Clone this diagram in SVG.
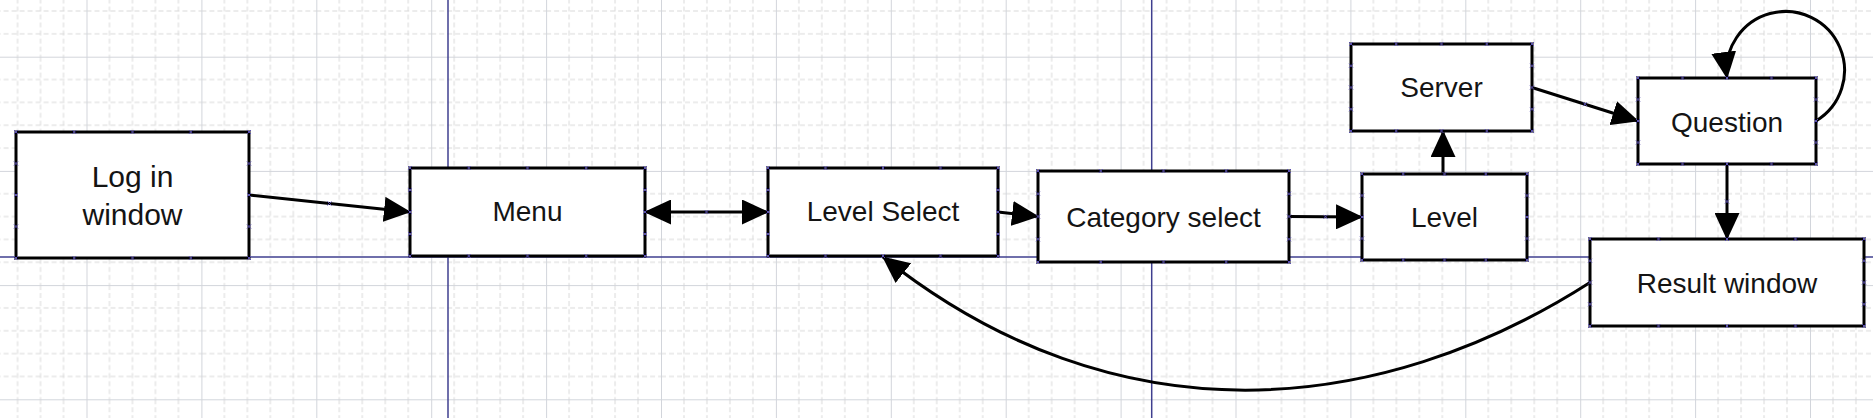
<svg xmlns="http://www.w3.org/2000/svg" width="1873" height="418" viewBox="0 0 1873 418">
  <style>
    .box { fill:#ffffff; stroke:#000000; stroke-width:3; }
    .lbl { font-family:"Liberation Sans", Arial, sans-serif; font-size:28px; fill:#141414; text-anchor:middle; }
    .big { font-size:30px; }
    .conn { fill:none; stroke:#000000; stroke-width:3; }
    .hp { fill:none; stroke:none; }
    .page { stroke:#3f3f8f; stroke-width:1.5; }
  </style>
  <defs>
    <pattern id="grid" patternUnits="userSpaceOnUse" x="86.5" y="56.7" width="114.9" height="114.2">
      <path d="M22.98,0 V114.2 M45.96,0 V114.2 M68.94,0 V114.2 M91.92,0 V114.2 M0,22.84 H114.9 M0,45.68 H114.9 M0,68.52 H114.9 M0,91.36 H114.9" stroke="#dadada" stroke-width="1" stroke-dasharray="5,3" fill="none"/>
      <path d="M0.5,0 V114.2 M0,0.5 H114.9" stroke="#d2d5db" stroke-width="1" fill="none"/>
    </pattern>
    <marker id="ah" viewBox="0 0 27 25" refX="26" refY="12.5" markerWidth="27" markerHeight="25" markerUnits="userSpaceOnUse" orient="auto">
      <path d="M0,0 L27,12.5 L0,25 z" fill="#000"/>
    </marker>
    <marker id="ahs" viewBox="0 0 27 25" refX="26" refY="12.5" markerWidth="27" markerHeight="25" markerUnits="userSpaceOnUse" orient="auto-start-reverse">
      <path d="M0,0 L27,12.5 L0,25 z" fill="#000"/>
    </marker>
    <marker id="h" viewBox="-3 -3 6 6" refX="0" refY="0" markerWidth="6" markerHeight="6" markerUnits="userSpaceOnUse" orient="0">
      <path d="M-2,-2 L2,2 M-2,2 L2,-2" stroke="#5a4fb0" stroke-width="1" fill="none"/>
    </marker>
  </defs>

  <g id="background">
    <rect x="0" y="0" width="1873" height="418" fill="#ffffff"/>
    <rect x="0" y="0" width="1873" height="418" fill="url(#grid)"/>
    <line class="page" x1="448" y1="0" x2="448" y2="418"/>
    <line class="page" x1="1151.7" y1="0" x2="1151.7" y2="418"/>
    <line class="page" x1="0" y1="257" x2="1873" y2="257"/>
  </g>

  <g id="connectors">
    <path class="conn" d="M249,195 L329.5,203.5 L410,212" marker-end="url(#ah)" marker-mid="url(#h)"/>
    <path class="conn" d="M645,212 L706.5,212 L768,212" marker-start="url(#ahs)" marker-end="url(#ahs)" marker-mid="url(#h)"/>
    <path class="conn" d="M998,212 L1018,214.2 L1038,216.5" marker-end="url(#ah)" marker-mid="url(#h)"/>
    <path class="conn" d="M1289,216.5 L1325.5,216.8 L1362,217" marker-end="url(#ah)" marker-mid="url(#h)"/>
    <path class="conn" d="M1443,174 L1443,152.5 L1443,131" marker-end="url(#ah)" marker-mid="url(#h)"/>
    <path class="conn" d="M1532,87.5 L1585,104.2 L1638,121" marker-end="url(#ah)" marker-mid="url(#h)"/>
    <path class="conn" d="M1727,164 L1727,201.5 L1727,239" marker-end="url(#ah)" marker-mid="url(#h)"/>
    <path class="conn" d="M1816,121 A59,59 0 1 0 1727,78" marker-end="url(#ah)"/>
    <path class="conn" d="M1590,282.5 C1379,417.5 1117,443 883,257" marker-end="url(#ah)"/>
  </g>

  <g id="node-login">
    <rect class="box" x="16" y="132" width="233" height="126"/>
    <path class="hp" marker-start="url(#h)" marker-mid="url(#h)" d="M16,132 L74.25,132 L132.5,132 L190.75,132 L249,132 L249,163.5 L249,195 L249,226.5 L249,258 L190.75,258 L132.5,258 L74.25,258 L16,258 L16,226.5 L16,195 L16,163.5 L16,132"/>
    <text class="lbl big" x="132.5" y="187">Log in</text>
    <text class="lbl big" x="132.5" y="225">window</text>
  </g>

  <g id="node-menu">
    <rect class="box" x="410" y="168" width="235" height="88"/>
    <path class="hp" marker-start="url(#h)" marker-mid="url(#h)" d="M410,168 L468.75,168 L527.5,168 L586.25,168 L645,168 L645,190 L645,212 L645,234 L645,256 L586.25,256 L527.5,256 L468.75,256 L410,256 L410,234 L410,212 L410,190 L410,168"/>
    <text class="lbl" x="527.5" y="221">Menu</text>
  </g>

  <g id="node-level-select">
    <rect class="box" x="768" y="168" width="230" height="88"/>
    <path class="hp" marker-start="url(#h)" marker-mid="url(#h)" d="M768,168 L825.5,168 L883,168 L940.5,168 L998,168 L998,190 L998,212 L998,234 L998,256 L940.5,256 L883,256 L825.5,256 L768,256 L768,234 L768,212 L768,190 L768,168"/>
    <text class="lbl" x="883" y="221">Level Select</text>
  </g>

  <g id="node-category-select">
    <rect class="box" x="1038" y="171" width="251" height="91"/>
    <path class="hp" marker-start="url(#h)" marker-mid="url(#h)" d="M1038,171 L1100.75,171 L1163.5,171 L1226.25,171 L1289,171 L1289,193.75 L1289,216.5 L1289,239.25 L1289,262 L1226.25,262 L1163.5,262 L1100.75,262 L1038,262 L1038,239.25 L1038,216.5 L1038,193.75 L1038,171"/>
    <text class="lbl" x="1163.5" y="226.5">Category select</text>
  </g>

  <g id="node-level">
    <rect class="box" x="1362" y="174" width="165" height="86"/>
    <path class="hp" marker-start="url(#h)" marker-mid="url(#h)" d="M1362,174 L1403.25,174 L1444.5,174 L1485.75,174 L1527,174 L1527,195.5 L1527,217 L1527,238.5 L1527,260 L1485.75,260 L1444.5,260 L1403.25,260 L1362,260 L1362,238.5 L1362,217 L1362,195.5 L1362,174"/>
    <text class="lbl" x="1444.5" y="226.5">Level</text>
  </g>

  <g id="node-server">
    <rect class="box" x="1351" y="44" width="181" height="87"/>
    <path class="hp" marker-start="url(#h)" marker-mid="url(#h)" d="M1351,44 L1396.25,44 L1441.5,44 L1486.75,44 L1532,44 L1532,65.75 L1532,87.5 L1532,109.25 L1532,131 L1486.75,131 L1441.5,131 L1396.25,131 L1351,131 L1351,109.25 L1351,87.5 L1351,65.75 L1351,44"/>
    <text class="lbl" x="1441.5" y="96.7">Server</text>
  </g>

  <g id="node-question">
    <rect class="box" x="1638" y="78" width="178" height="86"/>
    <path class="hp" marker-start="url(#h)" marker-mid="url(#h)" d="M1638,78 L1682.5,78 L1727,78 L1771.5,78 L1816,78 L1816,99.5 L1816,121 L1816,142.5 L1816,164 L1771.5,164 L1727,164 L1682.5,164 L1638,164 L1638,142.5 L1638,121 L1638,99.5 L1638,78"/>
    <text class="lbl" x="1727" y="131.7">Question</text>
  </g>

  <g id="node-result-window">
    <rect class="box" x="1590" y="239" width="274" height="87"/>
    <path class="hp" marker-start="url(#h)" marker-mid="url(#h)" d="M1590,239 L1658.5,239 L1727,239 L1795.5,239 L1864,239 L1864,260.75 L1864,282.5 L1864,304.25 L1864,326 L1795.5,326 L1727,326 L1658.5,326 L1590,326 L1590,304.25 L1590,282.5 L1590,260.75 L1590,239"/>
    <text class="lbl" x="1727" y="293.3">Result window</text>
  </g>
</svg>
